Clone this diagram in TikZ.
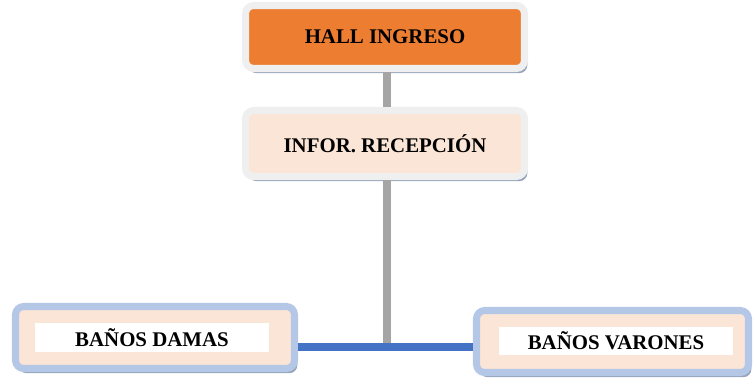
\documentclass[tikz,border=0pt]{standalone}
\usepackage{fontspec}
\setmainfont{Liberation Serif}
\usepackage{tikz}
\usetikzlibrary{shadows,calc}
\usepackage{xcolor}
\definecolor{hallorange}{HTML}{ED7D31}
\definecolor{peach}{HTML}{FBE5D6}
\definecolor{framegray}{HTML}{EFEFEF}
\definecolor{frameblue}{HTML}{B4C7E7}
\definecolor{linegray}{HTML}{A5A5A5}
\definecolor{lineblue}{HTML}{4472C4}
\definecolor{shadowc}{HTML}{8C9BB4}
\tikzset{
  areabox/.style={rounded corners=7pt, line width=6pt, inner sep=0pt,
    font=\fontsize{17.8pt}{20pt}\selectfont\bfseries,
    drop shadow={shadow xshift=2.5pt, shadow yshift=-4pt, fill=shadowc, opacity=.9}},
  topbox/.style={areabox, draw=framegray, minimum width=279*0.03cm, minimum height=63*0.03cm},
  lowbox/.style={areabox, draw=frameblue, fill=peach, minimum height=62*0.03cm},
  namebox/.style={fill=white, inner sep=0pt, minimum width=234*0.03cm, minimum height=29*0.03cm,
    font=\fontsize{17.8pt}{20pt}\selectfont\bfseries},
}
\begin{document}
\begin{tikzpicture}[x=0.03cm,y=-0.03cm]
\useasboundingbox (0,0) rectangle (753,379);
\node[topbox, fill=hallorange] (hall) at (385,37) {HALL INGRESO};
\node[topbox, fill=peach, minimum height=66*0.03cm] (infor) at (385,143.5) {INFOR. RECEPCI\'ON};
\node[lowbox, minimum width=279*0.03cm] (damas) at (155,337.5) {};
\node[namebox] (damas-txt) at (152,337.5) {BAÑOS DAMAS};
\node[lowbox, minimum width=272*0.03cm] (varones) at (612.5,341.5) {};
\node[namebox, minimum height=28*0.03cm] (varones-txt) at (616,341) {BAÑOS VARONES};
\coordinate (junction) at (387,347);
\draw[linegray, line width=6.8pt] (hall.south -| junction) -- (infor.north -| junction);
\draw[linegray, line width=6.8pt] (infor.south -| junction) -- (junction);
\draw[lineblue, line width=6pt] (junction -| damas.east) -- (junction -| varones.west);
\end{tikzpicture}
\end{document}
